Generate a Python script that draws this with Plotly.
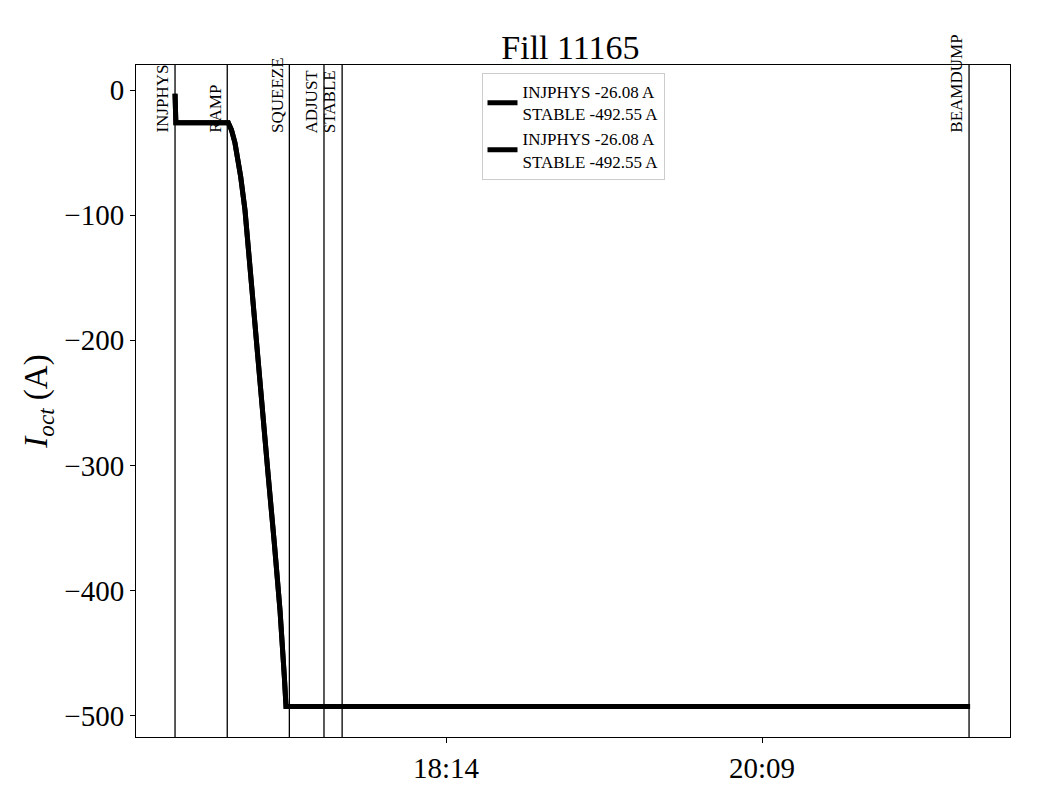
import plotly.graph_objects as go

DAY = "2024-09-19 "

# Current curve (octupole current vs time)
curve_times = ["16:35:24", "16:35:42", "16:54:47", "16:55:56", "16:57:13", "16:59:17",
               "17:00:51", "17:02:56", "17:04:45", "17:06:56", "17:09:20", "17:11:31",
               "17:13:35", "17:15:10", "17:15:47", "21:24:40"]
curve_values = [-3.0, -26.08, -26.08, -31.9, -42.3, -69.2,
                -95.8, -149.1, -202.1, -255.6, -308.9, -361.8,
                -415.3, -468.6, -492.55, -492.55]

# Beam mode events
event_names = ["INJPHYS", "RAMP", "SQUEEZE", "ADJUST", "STABLE", "BEAMDUMP"]
event_times = ["16:35:24", "16:54:24", "17:17:00", "17:29:36", "17:36:12", "21:24:18"]

legend_label = "INJPHYS -26.08 A<br>STABLE -492.55 A"
legend_labels = [legend_label, legend_label]

x_tick_times = ["18:14:00", "20:09:00"]
x_tick_text = ["18:14", "20:09"]
y_ticks = [0, -100, -200, -300, -400, -500]
y_tick_text = ["0", "\u2212100", "\u2212200", "\u2212300", "\u2212400", "\u2212500"]

x_range = ["16:21:12", "21:39:12"]
y_range = [-517, 20]

FONT = "Liberation Serif"

fig = go.Figure()
xs = [DAY + t for t in curve_times]
for lab in legend_labels:
    fig.add_trace(go.Scatter(x=xs, y=curve_values, mode="lines",
                             line=dict(color="black", width=5),
                             name=lab))

for name, t in zip(event_names, event_times):
    fig.add_shape(type="line", x0=DAY + t, x1=DAY + t, xref="x", yref="paper",
                  y0=0, y1=1, line=dict(color="black", width=1.3), layer="above")
    fig.add_annotation(x=DAY + t, y=-36, xref="x", yref="y", text=name,
                       textangle=-90, showarrow=False, xanchor="right", yanchor="bottom",
                       xshift=-1, font=dict(family=FONT, size=17, color="black"))

fig.update_layout(
    width=1032, height=792,
    paper_bgcolor="white", plot_bgcolor="white",
    margin=dict(l=128, r=30, t=57, b=63),
    font=dict(family=FONT, color="black"),
    title=dict(text="Fill 11165", x=0.545, xanchor="center", y=0.951, yanchor="middle",
               yref="container", font=dict(family=FONT, size=34, color="black")),
    showlegend=True,
    legend=dict(x=0.5, xanchor="center", y=0.988, yanchor="top",
                bgcolor="white", bordercolor="#cccccc", borderwidth=1,
                font=dict(family=FONT, size=17, color="black")),
    xaxis=dict(type="date", range=[DAY + x_range[0], DAY + x_range[1]],
               tickvals=[DAY + t for t in x_tick_times], ticktext=x_tick_text,
               showgrid=False, zeroline=False, showline=True, linecolor="black", linewidth=1,
               mirror=True, ticks="outside", ticklen=5, tickcolor="black",
               tickfont=dict(family=FONT, size=29, color="black")),
    yaxis=dict(range=y_range, tickvals=y_ticks, ticktext=y_tick_text,
               showgrid=False, zeroline=False, showline=True, linecolor="black", linewidth=1,
               mirror=True, ticks="outside", ticklen=5, tickcolor="black",
               tickfont=dict(family=FONT, size=29, color="black"),
               title=dict(text="<i>I</i><sub><i>oct</i></sub> (A)", standoff=6,
                          font=dict(family=FONT, size=33, color="black"))),
)

fig.write_html("out.html")
